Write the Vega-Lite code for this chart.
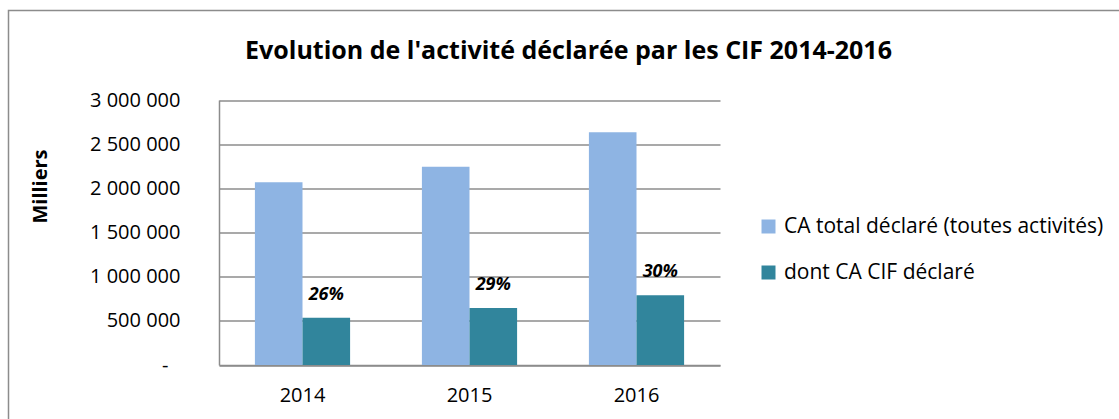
{
  "$schema": "https://vega.github.io/schema/vega-lite/v6.json",
  "width": 1120,
  "height": 420,
  "autosize": "none",
  "padding": {"left": 8.5, "top": 10.5, "right": 0, "bottom": 0},
  "background": "white",
  "config": {
    "font": "Open Sans",
    "view": {"stroke": "#8c8c8c", "strokeWidth": 1.5},
    "locale": {"number": {"decimal": ",", "thousands": " ", "grouping": [3], "currency": ["", " €"]}}
  },
  "title": {
    "text": "Evolution de l'activité déclarée par les CIF 2014-2016",
    "anchor": "middle",
    "frame": "group",
    "orient": "top",
    "offset": -73.5,
    "baseline": "alphabetic",
    "fontSize": 25,
    "fontWeight": "bold",
    "color": "#000000"
  },
  "data": {
    "values": [
      {"year": "2014", "series": "CA total déclaré (toutes activités)", "value": 2068000, "pct": null},
      {"year": "2014", "series": "dont CA CIF déclaré", "value": 535500, "pct": "26%"},
      {"year": "2015", "series": "CA total déclaré (toutes activités)", "value": 2245000, "pct": null},
      {"year": "2015", "series": "dont CA CIF déclaré", "value": 645000, "pct": "29%"},
      {"year": "2016", "series": "CA total déclaré (toutes activités)", "value": 2634000, "pct": null},
      {"year": "2016", "series": "dont CA CIF déclaré", "value": 789000, "pct": "30%"}
    ]
  },
  "encoding": {
    "x": {
      "field": "year",
      "type": "nominal",
      "scale": {"range": [210.5, 711.5], "paddingInner": 0.43, "paddingOuter": 0.215},
      "axis": {
        "title": null,
        "orient": "bottom",
        "offset": -65.5,
        "labelAngle": 0,
        "labelFontSize": 20,
        "labelColor": "#000000",
        "labelPadding": 20,
        "ticks": false,
        "domainColor": "#8c8c8c",
        "domainWidth": 1.5
      }
    },
    "xOffset": {
      "field": "series",
      "type": "nominal",
      "sort": ["CA total déclaré (toutes activités)", "dont CA CIF déclaré"]
    },
    "y": {
      "field": "value",
      "type": "quantitative",
      "scale": {"domain": [0, 3000000], "range": [354.5, 89.5], "nice": false},
      "axis": {
        "orient": "left",
        "offset": -210.5,
        "values": [0, 500000, 1000000, 1500000, 2000000, 2500000, 3000000],
        "format": ",d",
        "labelExpr": "datum.value == 0 ? '-' : datum.label",
        "labelFontSize": 20,
        "labelColor": "#000000",
        "labelPadding": {"condition": {"test": "datum.value == 0", "value": 51}, "value": 39},
        "ticks": false,
        "grid": true,
        "gridColor": "#8c8c8c",
        "gridWidth": 1.5,
        "domainColor": "#8c8c8c",
        "domainWidth": 1.5,
        "title": "Milliers",
        "titleFontSize": 20,
        "titleFontWeight": "bold",
        "titleColor": "#000000",
        "titleAngle": -90,
        "titleAlign": "center",
        "titleBaseline": "middle",
        "titleX": -179,
        "titleY": 175.5
      }
    }
  },
  "layer": [
    {
      "mark": {"type": "bar"},
      "encoding": {
        "color": {
          "field": "series",
          "type": "nominal",
          "sort": ["CA total déclaré (toutes activités)", "dont CA CIF déclaré"],
          "scale": {"domain": ["CA total déclaré (toutes activités)", "dont CA CIF déclaré"], "range": ["#8EB4E3", "#31859C"]},
          "legend": {
            "title": null,
            "orient": "none",
            "legendX": 749.5,
            "legendY": 205.5,
            "padding": 0,
            "symbolType": "square",
            "symbolSize": 196,
            "symbolStrokeWidth": 0,
            "labelFontSize": 21,
            "labelColor": "#000000",
            "labelOffset": 5,
            "rowPadding": 24,
            "labelLimit": 400
          }
        }
      }
    },
    {
      "transform": [{"filter": "datum.pct != null"}],
      "mark": {"type": "text", "baseline": "alphabetic", "align": "center", "dy": -18, "fontSize": 18, "fontWeight": "bold", "fontStyle": "italic", "color": "#000000"},
      "encoding": {
        "text": {"field": "pct", "type": "nominal"}
      }
    }
  ]
}
